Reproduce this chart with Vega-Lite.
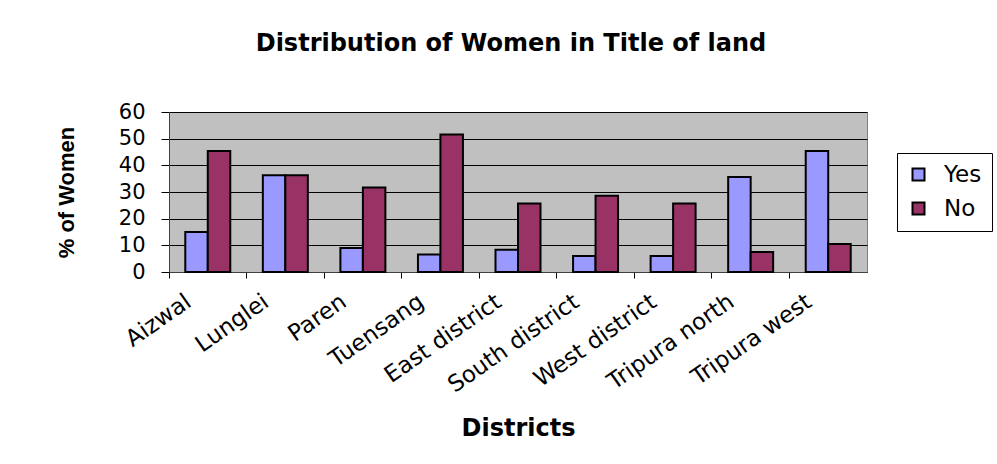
{
  "$schema": "https://vega.github.io/schema/vega-lite/v6.json",
  "width": 698,
  "height": 160,
  "autosize": {"type": "none"},
  "padding": {"left": 169, "top": 112, "right": 130, "bottom": 192},
  "background": "white",
  "title": {
    "text": "Distribution of Women in Title of land",
    "font": "DejaVu Sans",
    "fontSize": 24,
    "fontWeight": "bold",
    "color": "black",
    "anchor": "middle",
    "frame": "group",
    "offset": 45,
    "dx": -7
  },
  "data": {
    "values": [
      {"district": "Aizwal", "answer": "Yes", "pct": 15},
      {"district": "Aizwal", "answer": "No", "pct": 45.4},
      {"district": "Lunglei", "answer": "Yes", "pct": 36.3},
      {"district": "Lunglei", "answer": "No", "pct": 36.3},
      {"district": "Paren", "answer": "Yes", "pct": 9},
      {"district": "Paren", "answer": "No", "pct": 31.7},
      {"district": "Tuensang", "answer": "Yes", "pct": 6.6},
      {"district": "Tuensang", "answer": "No", "pct": 51.6},
      {"district": "East district", "answer": "Yes", "pct": 8.3},
      {"district": "East district", "answer": "No", "pct": 25.7},
      {"district": "South district", "answer": "Yes", "pct": 6},
      {"district": "South district", "answer": "No", "pct": 28.6},
      {"district": "West district", "answer": "Yes", "pct": 6},
      {"district": "West district", "answer": "No", "pct": 25.7},
      {"district": "Tripura north", "answer": "Yes", "pct": 35.6},
      {"district": "Tripura north", "answer": "No", "pct": 7.5},
      {"district": "Tripura west", "answer": "Yes", "pct": 45.4},
      {"district": "Tripura west", "answer": "No", "pct": 10.5}
    ]
  },
  "mark": {"type": "bar", "stroke": "black", "strokeWidth": 2},
  "encoding": {
    "x": {
      "field": "district",
      "type": "nominal",
      "sort": null,
      "title": "Districts",
      "scale": {"paddingInner": 0, "paddingOuter": 0},
      "axis": {
        "bandPosition": 0,
        "labelAngle": -35,
        "labelAlign": "right",
        "labelBaseline": "middle",
        "labelFont": "DejaVu Sans",
        "labelFontSize": 23,
        "labelColor": "black",
        "labelPadding": 21,
        "labelOffset": -19,
        "labelOverlap": false,
        "labelLimit": 0,
        "tickSize": 6,
        "tickColor": "black",
        "domainColor": "#404040",
        "grid": false,
        "titleFont": "DejaVu Sans",
        "titleFontSize": 24,
        "titleFontWeight": "bold",
        "titleColor": "black",
        "titlePadding": 20
      }
    },
    "xOffset": {
      "field": "answer",
      "type": "nominal",
      "sort": ["Yes", "No"],
      "scale": {"paddingInner": 0, "paddingOuter": 0.724}
    },
    "y": {
      "field": "pct",
      "type": "quantitative",
      "title": "% of Women",
      "scale": {"domain": [0, 60]},
      "axis": {
        "values": [0, 10, 20, 30, 40, 50, 60],
        "labelFont": "DejaVu Sans",
        "labelFontSize": 21,
        "labelColor": "black",
        "labelPadding": 16,
        "tickSize": 8,
        "tickColor": "black",
        "domainColor": "#404040",
        "gridColor": "black",
        "gridOpacity": 1,
        "gridWidth": 1,
        "titleFont": "Liberation Sans",
        "titleFontSize": 22,
        "titleFontWeight": "bold",
        "titleColor": "black",
        "titlePadding": 40
      }
    },
    "color": {
      "field": "answer",
      "type": "nominal",
      "sort": ["Yes", "No"],
      "scale": {"domain": ["Yes", "No"], "range": ["#9999FF", "#993366"]},
      "legend": {
        "orient": "none",
        "legendX": 728,
        "legendY": 41,
        "title": null,
        "strokeColor": "black",
        "fillColor": "white",
        "padding": 10,
        "symbolType": "square",
        "symbolSize": 144,
        "symbolStrokeColor": "black",
        "symbolStrokeWidth": 2,
        "labelFont": "DejaVu Sans",
        "labelFontSize": 23,
        "labelColor": "black",
        "labelOffset": 14,
        "rowPadding": 10
      }
    }
  },
  "config": {
    "view": {"fill": "#C0C0C0", "stroke": "#808080"}
  }
}
